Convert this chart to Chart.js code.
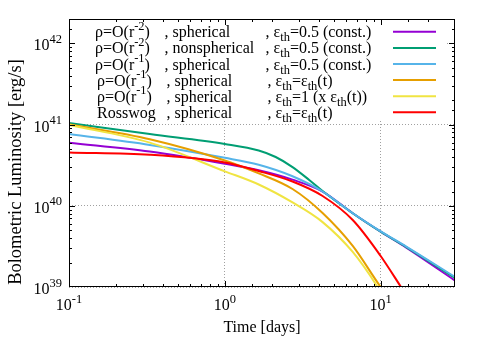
<!DOCTYPE html>
<html>
<head>
<meta charset="utf-8">
<script src="https://cdn.jsdelivr.net/npm/chart.js@4.4.0/dist/chart.umd.min.js"></script>
<style>
  body { margin: 0; background: #fff; }
  canvas { display: block; }
</style>
</head>
<body>
<canvas id="lum" width="485" height="339"></canvas>
<script>
// time [days] and bolometric luminosity [erg/s]
const tPurple = [0.1, 0.33, 1, 1.65, 2.72, 4.24, 6.62, 10, 14.6, 30];
const lPurple = [6.0e40, 4.66e40, 3.3e40, 2.74e40, 2.1e40, 1.5e40, 8.1e39, 4.8e39, 3.05e39, 1.2e39];

const tGreen = [0.1, 0.33, 1, 1.65, 2.12, 2.72, 3.48, 4.24, 6.62, 10, 14.6, 30];
const lGreen = [1.05e41, 7.65e40, 5.77e40, 4.8e40, 3.99e40, 3.0e40, 2.08e40, 1.52e40, 8.1e39, 4.8e39, 3.1e39, 1.29e39];

const tBlue = [0.1, 0.33, 1, 1.65, 2.72, 4.24, 6.62, 10, 14.6, 30];
const lBlue = [7.65e40, 5.62e40, 3.9e40, 3.2e40, 2.31e40, 1.5e40, 8.1e39, 4.85e39, 3.15e39, 1.33e39];

const tOrange = [0.1, 0.33, 1, 1.65, 2.72, 4.24, 6.62, 10, 11];
const lOrange = [1.01e41, 6.6e40, 3.62e40, 2.51e40, 1.61e40, 8.15e39, 3.2e39, 1.0e39, 7.9e38];

const tYellow = [0.1, 0.33, 1, 1.65, 2.72, 4.24, 6.62, 9.55, 10.5];
const lYellow = [9.9e40, 6.0e40, 2.66e40, 1.83e40, 1.1e40, 6.3e39, 2.7e39, 1.0e39, 7.3e38];

const tRed = [0.1, 0.33, 1, 1.65, 2.72, 4.24, 6.62, 10, 13.5, 15];
const lRed = [4.53e40, 4.25e40, 3.42e40, 2.68e40, 1.99e40, 1.32e40, 6.68e39, 2.41e39, 1.0e39, 7.3e38];

// key text, gnuplot enhanced syntax (^{} superscript, _{} subscript)
const keyDensity = ['ρ=O(r^{-2})', 'ρ=O(r^{-2})', 'ρ=O(r^{-1})', 'ρ=O(r^{-1})', 'ρ=O(r^{-1})', 'Rosswog'];
const keyGeometry = [', spherical', ', nonspherical', ', spherical', ', spherical', ', spherical', ', spherical'];
const keyHeating = [', ε_{th}=0.5 (const.)', ', ε_{th}=0.5 (const.)', ', ε_{th}=0.5 (const.)',
                    ', ε_{th}=ε_{th}(t)', ', ε_{th}=1 (x ε_{th}(t))', ', ε_{th}=ε_{th}(t)'];

const xTickValues = [0.1, 1, 10];
const xTickLabels = ['10^{-1}', '10^{0}', '10^{1}'];
const yTickValues = [1e39, 1e40, 1e41, 1e42];
const yTickLabels = ['10^{39}', '10^{40}', '10^{41}', '10^{42}'];

const colors = ['#9400d3', '#009e73', '#56b4e9', '#e69f00', '#f0e442', '#ff0000'];
const series = [[tPurple, lPurple], [tGreen, lGreen], [tBlue, lBlue], [tOrange, lOrange], [tYellow, lYellow], [tRed, lRed]];

const FONT = '"Liberation Serif", "Times New Roman", serif';
const isMajor = v => Math.abs(Math.log10(v) - Math.round(Math.log10(v))) < 1e-6;

function drawRich(ctx, str, x, y, size, align) {
  const parts = [];
  const re = /([\^_])\{([^}]*)\}/g;
  let last = 0, m;
  while ((m = re.exec(str))) {
    if (m.index > last) parts.push({ t: str.slice(last, m.index), k: 0 });
    parts.push({ t: m[2], k: m[1] === '^' ? 1 : -1 });
    last = re.lastIndex;
  }
  if (last < str.length) parts.push({ t: str.slice(last), k: 0 });
  const small = size * 0.78;
  let w = 0;
  parts.forEach(p => {
    ctx.font = (p.k ? small : size) + 'px ' + FONT;
    p.w = ctx.measureText(p.t).width;
    w += p.w;
  });
  let cx = align === 'right' ? x - w : align === 'center' ? x - w / 2 : x;
  ctx.textAlign = 'left';
  ctx.textBaseline = 'alphabetic';
  parts.forEach(p => {
    ctx.font = (p.k ? small : size) + 'px ' + FONT;
    const dy = p.k === 1 ? -size * 0.46 : p.k === -1 ? size * 0.25 : 0;
    ctx.fillText(p.t, cx, y + dy);
    cx += p.w;
  });
}

const gnuplotLook = {
  id: 'gnuplotLook',
  beforeDatasetsDraw(chart) {
    const { ctx, chartArea: a } = chart;
    ctx.save();
    // opaque key box
    ctx.fillStyle = '#fff';
    ctx.fillRect(a.left, a.top, 445 - a.left, 120 - a.top);
    ctx.fillStyle = '#000';
    for (let i = 0; i < keyDensity.length; i++) {
      const rowY = 31.8 + 16.1 * i;
      const shift = i >= 3 ? 2 : 0;
      drawRich(ctx, keyDensity[i], 95 + shift, rowY + 5.5, 16, 'left');
      drawRich(ctx, keyGeometry[i], 164.5 + shift, rowY + 5.5, 16, 'left');
      drawRich(ctx, keyHeating[i], 265.5 + shift, rowY + 5.5, 16, 'left');
      ctx.strokeStyle = colors[i];
      ctx.lineWidth = 2;
      ctx.beginPath();
      ctx.moveTo(393, rowY);
      ctx.lineTo(436, rowY);
      ctx.stroke();
    }
    ctx.restore();
  },
  afterDatasetsDraw(chart) {
    const { ctx, chartArea: a } = chart;
    const xs = chart.scales.x, ys = chart.scales.y;
    ctx.save();
    ctx.strokeStyle = '#000';
    ctx.lineWidth = 1;
    ctx.beginPath();
    xs.ticks.forEach(tk => {
      if (tk.value <= xs.min || tk.value >= xs.max) return;
      const px = Math.round(xs.getPixelForValue(tk.value)) + 0.5;
      const len = isMajor(tk.value) ? 6 : 3;
      ctx.moveTo(px, a.bottom); ctx.lineTo(px, a.bottom - len);
      ctx.moveTo(px, a.top); ctx.lineTo(px, a.top + len);
    });
    ys.ticks.forEach(tk => {
      if (tk.value <= ys.min || tk.value >= ys.max) return;
      const py = Math.round(ys.getPixelForValue(tk.value)) + 0.5;
      const len = isMajor(tk.value) ? 6 : 3;
      ctx.moveTo(a.left, py); ctx.lineTo(a.left + len, py);
      ctx.moveTo(a.right, py); ctx.lineTo(a.right - len, py);
    });
    ctx.stroke();
    ctx.strokeRect(a.left + 0.5, a.top + 0.5, a.right - a.left - 1, a.bottom - a.top - 1);

    ctx.fillStyle = '#000';
    xTickValues.forEach((v, i) => drawRich(ctx, xTickLabels[i], xs.getPixelForValue(v), 310, 16, 'center'));
    yTickValues.forEach((v, i) => drawRich(ctx, yTickLabels[i], 62, ys.getPixelForValue(v) + 7, 16, 'right'));

    ctx.font = '16px ' + FONT;
    ctx.textAlign = 'center';
    ctx.textBaseline = 'alphabetic';
    ctx.fillText('Time [days]', (a.left + a.right) / 2, 332);
    ctx.translate(16, 172);
    ctx.rotate(-Math.PI / 2);
    ctx.font = '18.5px ' + FONT;
    ctx.textBaseline = 'middle';
    ctx.fillText('Bolometric Luminosity [erg/s]', 0, 0);
    ctx.restore();
  }
};

const hiddenAxis = {
  type: 'logarithmic',
  ticks: { display: false },
  border: { display: false, dash: [1, 2] },
  grid: {
    drawTicks: false,
    lineWidth: 1,
    color: c => (c.tick && isMajor(c.tick.value)) ? '#a0a0a0' : 'rgba(0,0,0,0)'
  }
};

new Chart(document.getElementById('lum'), {
  type: 'line',
  data: {
    datasets: series.map((s, i) => ({
      label: keyDensity[i] + keyGeometry[i] + keyHeating[i],
      data: s[0].map((t, j) => ({ x: t, y: s[1][j] })),
      borderColor: colors[i],
      borderWidth: 2,
      pointRadius: 0,
      fill: false,
      cubicInterpolationMode: 'monotone',
      clip: 0,
      order: series.length - 1 - i
    }))
  },
  options: {
    responsive: false,
    animation: false,
    layout: { autoPadding: false, padding: { left: 69, right: 30, top: 19, bottom: 52 } },
    plugins: { legend: { display: false }, tooltip: { enabled: false } },
    scales: {
      x: Object.assign({}, hiddenAxis, { min: 0.1, max: 30, afterFit: s => { s.height = 0; } }),
      y: Object.assign({}, hiddenAxis, { min: 1e39, max: 2e42, afterFit: s => { s.width = 0; } })
    }
  },
  plugins: [gnuplotLook]
});
</script>
</body>
</html>
